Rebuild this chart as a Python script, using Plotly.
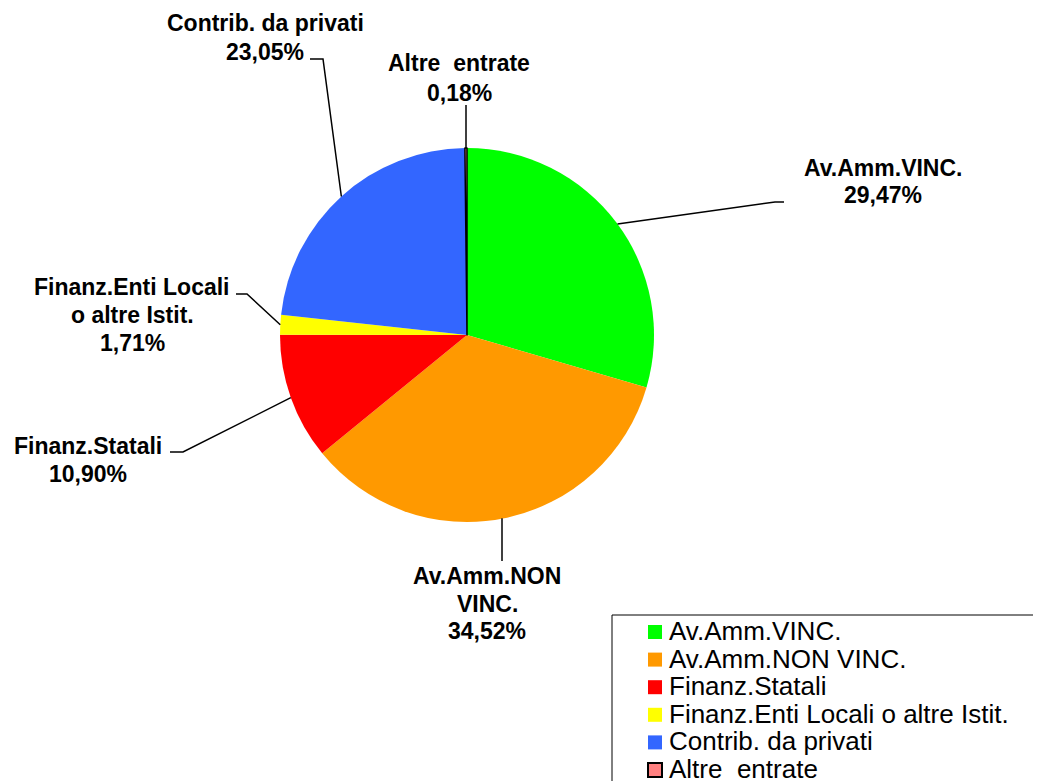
import math
import plotly.graph_objects as go

labels = ["Av.Amm.VINC.", "Av.Amm.NON VINC.", "Finanz.Statali",
          "Finanz.Enti Locali o altre Istit.", "Contrib. da privati", "Altre  entrate"]
values = [29.47, 34.52, 10.90, 1.71, 23.05, 0.18]
label_lines = [["Av.Amm.VINC."], ["Av.Amm.NON", "VINC."], ["Finanz.Statali"],
               ["Finanz.Enti Locali", "o altre Istit."], ["Contrib. da privati"],
               ["Altre  entrate"]]
colors = ["#00FF00", "#FF9900", "#FF0000", "#FFFF00", "#3366FF", "#FF8080"]

OFF = 8  # page body margin in the browser
W, H = 1041 - OFF, 781 - OFF
CX, CY, R = 467, 335, 187
FONT = "Arial, Liberation Sans, sans-serif"
LBL_SIZE = 23
LEG_SIZE = 26


def px(x):
    return (x - OFF) / W


def py(y):
    return 1 - (y - OFF) / H


fig = go.Figure()
fig.add_trace(go.Pie(
    labels=labels, values=values, sort=False, direction="clockwise", rotation=0,
    marker=dict(colors=colors, line=dict(color="black", width=[0, 0, 0, 0, 0, 1.5])),
    textinfo="none", hoverinfo="label+percent", showlegend=False,
    domain=dict(x=[px(CX - R), px(CX + R)], y=[py(CY + R), py(CY - R)]),
))

# label layout: text center x, first line y, line spacing, leader path after anchor
label_pos = [
    dict(x=883, y=168, dy=27, path=[(775, 202), (784, 202)], angle=53.6, vertical=False),
    dict(x=487, y=576, dy=27.5, path=[(502, 561)], angle=None, vertical=True),
    dict(x=88, y=446, dy=28, path=[(183, 452), (170, 452)], angle=None, vertical=False),
    dict(x=132, y=287, dy=28, path=[(247, 294), (236, 294)], angle=None, vertical=False),
    dict(x=265, y=23, dy=29.5, path=[(323, 59), (310, 59)], angle=None, vertical=False),
    dict(x=459, y=63, dy=29.5, path=[(466, 105)], angle=None, vertical=True),
]

total = sum(values)
cum = 0.0
shapes = []
annotations = []
for i, v in enumerate(values):
    frac_mid = (cum + v / 2) / total
    cum += v
    lp = label_pos[i]
    ang = math.radians(lp["angle"]) if lp["angle"] is not None else 2 * math.pi * frac_mid
    sx = CX + R * math.sin(ang)
    sy = CY - R * math.cos(ang)
    if lp["vertical"]:
        pts = [(lp["path"][0][0], sy)] + lp["path"]
    else:
        pts = [(sx, sy)] + lp["path"]
    d = "M " + " L ".join(f"{px(a)},{py(b)}" for a, b in pts)
    shapes.append(dict(type="path", path=d, xref="paper", yref="paper",
                       line=dict(color="black", width=1.5)))
    pct = f"{v:.2f}".replace(".", ",") + "%"
    lines = label_lines[i] + [pct]
    for k, t in enumerate(lines):
        annotations.append(dict(
            x=px(lp["x"]), y=py(lp["y"] + k * lp["dy"]), xref="paper", yref="paper",
            xanchor="center", yanchor="middle", showarrow=False,
            text=f"<b>{t}</b>",
            font=dict(family=FONT, size=LBL_SIZE, color="black"),
        ))

# legend frame (continues past the right and bottom edges)
frame = [(612, 800), (612, 615), (1060, 615)]
shapes.append(dict(type="path", xref="paper", yref="paper",
                   path="M " + " L ".join(f"{px(a)},{py(b)}" for a, b in frame),
                   line=dict(color="black", width=1)))

# legend entries
LEG_Y0, LEG_DY = 631, 27.6
for i, (lab, col) in enumerate(zip(labels, colors)):
    yc = LEG_Y0 + i * LEG_DY
    shapes.append(dict(type="rect", xref="paper", yref="paper",
                       x0=px(648), x1=px(662), y0=py(yc + 8), y1=py(yc - 6),
                       fillcolor=col,
                       line=dict(color="black", width=2 if i == len(labels) - 1 else 0)))
    annotations.append(dict(
        x=px(667), y=py(yc), xref="paper", yref="paper",
        xanchor="left", yanchor="middle", showarrow=False, text=lab,
        font=dict(family=FONT, size=LEG_SIZE, color="black"),
    ))

fig.update_layout(
    width=W, height=H, margin=dict(l=0, r=0, t=0, b=0, autoexpand=False),
    paper_bgcolor="white", plot_bgcolor="white",
    shapes=shapes, annotations=annotations,
    showlegend=False,
)

fig.write_html("out.html")
